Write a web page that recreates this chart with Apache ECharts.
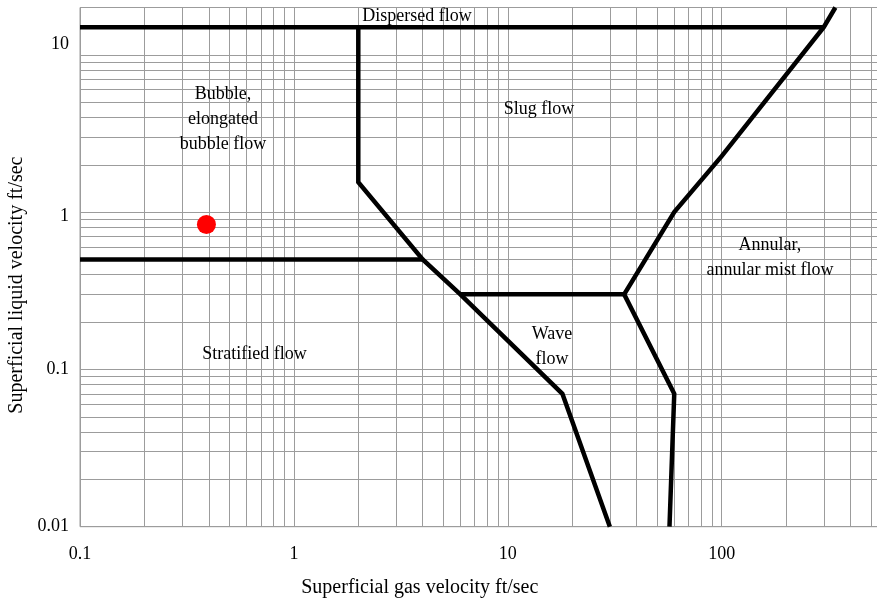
<!DOCTYPE html>
<html><head><meta charset="utf-8">
<script src="https://cdn.jsdelivr.net/npm/echarts@6/dist/echarts.min.js"></script>
<style>html,body{margin:0;padding:0;background:#fff}#c{width:877px;height:600px}</style>
</head><body><div id="c"></div>
<script>
// Tick labels
const xTickLabels = ['0.1', '1', '10', '100'];
const yTickLabels = ['0.01', '0.1', '1', '10'];
// Minor grid values (log paper)
const xMinorGrid = [0.2,0.3,0.4,0.5,0.6,0.7,0.8,0.9, 2,3,4,5,6,7,8,9, 20,30,40,50,60,70,80,90, 200,300,400,500,600,700,800,900];
const yMinorGrid = [0.02,0.03,0.04,0.05,0.06,0.07,0.08,0.09, 0.2,0.3,0.4,0.5,0.6,0.7,0.8,0.9, 2,3,4,5,6,7,8,9];

// Flow-regime boundaries [gas velocity, liquid velocity]
const dispersedBoundary = [[0.1, 15], [300, 15]];
const bubbleSlugBoundary = [[2, 15], [2, 1.55], [4, 0.5], [6, 0.3], [18, 0.07], [30, 0.01]];
const stratifiedBoundary = [[0.1, 0.5], [4, 0.5]];
const waveSlugBoundary = [[6, 0.3], [35, 0.3]];
const annularBoundary = [[57, 0.01], [60, 0.07], [35, 0.3], [60, 1], [100, 2.27], [300, 15], [340, 20]];

// Region labels
const regionNames = ['Dispersed flow', 'Bubble,\nelongated\nbubble flow', 'Slug flow', 'Annular,\nannular mist flow', 'Stratified flow', 'Wave\nflow'];
const regionX = [3.76, 0.466, 14.0, 168, 0.654, 16.1];
const regionY = [17.5, 3.88, 4.5, 0.515, 0.125, 0.14];

// Operating point
const pointX = [0.39];
const pointY = [0.835];

const FONT = '"Liberation Serif", "Times New Roman", serif';
const GRID = '#9c9c9c';

function matchLabel(list, v) {
  for (const t of list) {
    if (Math.abs(Math.log10(+t) - Math.log10(v)) < 1e-6) return t;
  }
  return null;
}

const boundaryStyle = {type: 'line', symbol: 'none', silent: true, z: 5,
  lineStyle: {color: '#000', width: 4.5, join: 'miter', opacity: 1}};

const option = {
  animation: false,
  backgroundColor: '#fff',
  grid: {left: 80, top: 7.5, width: 855.6, height: 519.2, containLabel: false, outerBoundsMode: 'none',
    show: true, borderColor: GRID, borderWidth: 1, backgroundColor: 'transparent'},
  xAxis: {
    type: 'log', logBase: 10, min: 0.1, max: 1000,
    axisLine: {show: false}, axisTick: {show: false},
    splitLine: {show: true, lineStyle: {color: GRID, width: 1}},
    axisLabel: {color: '#000', fontFamily: FONT, fontSize: 18, margin: 19,
      showMaxLabel: false,
      formatter: v => matchLabel(xTickLabels, v) || ''},
    name: 'Superficial gas velocity ft/sec', nameLocation: 'middle', nameGap: 51,
    nameTextStyle: {color: '#000', fontFamily: FONT, fontSize: 20, padding: [0, 176, 0, 0]}
  },
  yAxis: {
    type: 'log', logBase: 10, min: 0.01, max: 20,
    axisLine: {show: false}, axisTick: {show: false},
    splitLine: {show: true, lineStyle: {color: GRID, width: 1}},
    axisLabel: {color: '#000', fontFamily: FONT, fontSize: 18, margin: 11,
      formatter: v => {
        const t = matchLabel(yTickLabels, v);
        if (!t) return '';
        if (t === '10') return '{up|10}';
        if (t === '1') return '{dn|1}';
        return t;
      },
      rich: {
        up: {fontFamily: FONT, fontSize: 18, color: '#000', padding: [0, 0, 22, 0]},
        dn: {fontFamily: FONT, fontSize: 18, color: '#000', padding: [8, 0, 0, 0]}
      }},
    name: 'Superficial liquid velocity ft/sec', nameLocation: 'middle', nameGap: 52,
    nameTextStyle: {color: '#000', fontFamily: FONT, fontSize: 20, padding: [0, 36, 0, 0]}
  },
  series: [
    {type: 'line', data: [], silent: true, z: 1,
      markLine: {silent: true, symbol: 'none', label: {show: false},
        lineStyle: {color: GRID, width: 1, type: 'solid', opacity: 1}, emphasis: {disabled: true},
        data: xMinorGrid.map(v => ({xAxis: v})).concat(yMinorGrid.map(v => ({yAxis: v})))}},
    Object.assign({data: dispersedBoundary}, boundaryStyle),
    Object.assign({data: bubbleSlugBoundary}, boundaryStyle),
    Object.assign({data: stratifiedBoundary}, boundaryStyle),
    Object.assign({data: waveSlugBoundary}, boundaryStyle),
    Object.assign({data: annularBoundary}, boundaryStyle),
    {type: 'scatter', silent: true, z: 6, symbolSize: 0, itemStyle: {opacity: 1},
      data: regionNames.map((n, i) => ({value: [regionX[i], regionY[i]], name: n})),
      label: {show: true, position: 'inside', formatter: p => p.name, color: '#000',
        fontFamily: FONT, fontSize: 18, lineHeight: 25, align: 'center', verticalAlign: 'middle'}},
    {type: 'scatter', silent: true, z: 7, symbol: 'circle', symbolSize: 19,
      itemStyle: {color: '#ff0000', opacity: 1},
      data: pointX.map((x, i) => [x, pointY[i]])}
  ]
};
const chart = echarts.init(document.getElementById('c'), null, {renderer: 'canvas'});
chart.setOption(option);
</script>
</body></html>
